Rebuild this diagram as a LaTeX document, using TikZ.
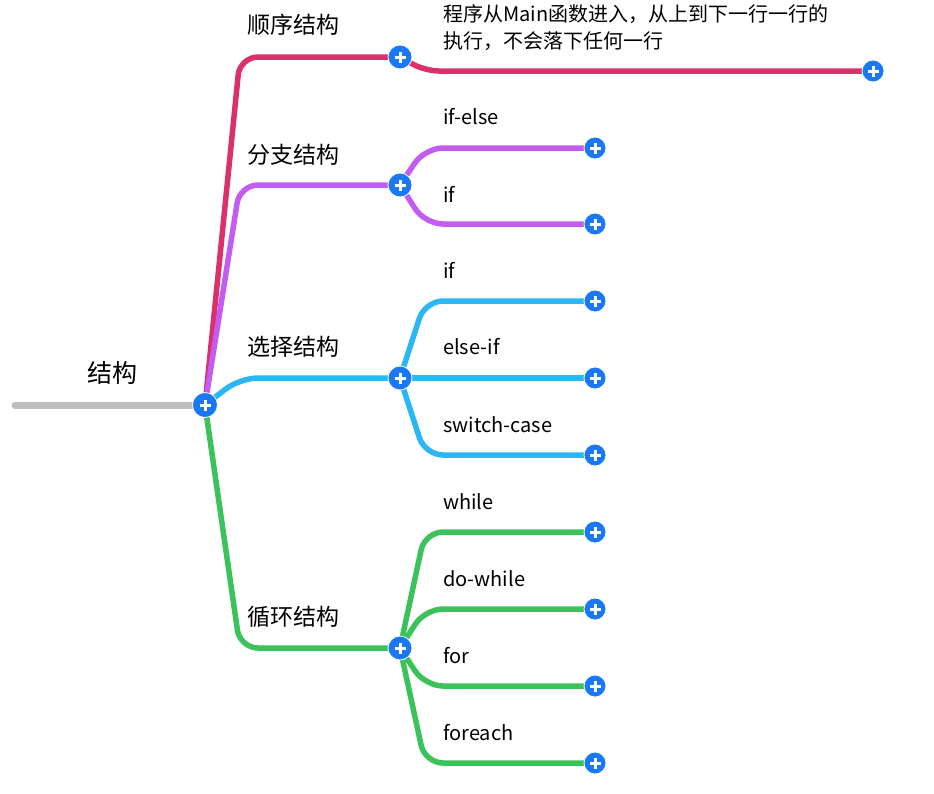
\documentclass[tikz,border=0pt]{standalone}
\usepackage{fontspec}
\setmainfont{Noto Sans CJK SC}
\definecolor{seqred}{HTML}{DC306B}
\definecolor{branchpurple}{HTML}{C35CF0}
\definecolor{selectblue}{HTML}{2BB6F6}
\definecolor{loopgreen}{HTML}{3CC25B}
\definecolor{rootgray}{HTML}{BDBDBD}
\definecolor{plusblue}{HTML}{1A78F6}
\tikzset{
  plus/.style={circle,fill=plusblue,draw=white,line width=0.8pt,minimum size=#1,inner sep=0pt,
    path picture={\draw[white,line width=3pt]
      ([xshift=-5.5pt]path picture bounding box.center) -- ([xshift=5.5pt]path picture bounding box.center)
      ([yshift=-5.5pt]path picture bounding box.center) -- ([yshift=5.5pt]path picture bounding box.center);}},
  plus/.default=24pt,
  link/.style={line width=5.5pt,rounded corners=18pt,line cap=round},
  rootfont/.style={font=\fontsize{25}{30}\selectfont},
  headfont/.style={font=\fontsize{23}{28}\selectfont},
  leaffont/.style={font=\fontsize{20}{27}\selectfont,anchor=west,inner sep=0pt},
}
\begin{document}
\begin{tikzpicture}[x=1pt,y=-1pt]
\useasboundingbox (0,0) rectangle (934,793);
% centres of the knots
\coordinate (start) at (15,405);
\coordinate (root) at (205,405);
\coordinate (seq) at (400,57);
\coordinate (branch) at (400,185);
\coordinate (select) at (400,378);
\coordinate (loop) at (400,648);
\coordinate (seqend) at (873,71);
\coordinate (ifelse) at (595,148);
\coordinate (ifone) at (595,224);
\coordinate (iftwo) at (595,301);
\coordinate (elseif) at (595,378);
\coordinate (switch) at (595,455);
\coordinate (while) at (595,532);
\coordinate (dowhile) at (595,609);
\coordinate (for) at (595,686);
\coordinate (foreach) at (595,763);

\draw[rootgray,line width=7pt,line cap=round] (start) -- (root);
\draw[link,seqred] (root) -- ([xshift=-160]seq) -- (seq);
\draw[link,branchpurple] (root) -- ([xshift=-160]branch) -- (branch);
\draw[link,selectblue] (root) -- ([xshift=-160]select) -- (select);
\draw[link,loopgreen] (root) -- ([xshift=-160]loop) -- (loop);

\draw[link,seqred,rounded corners=14pt] (seq) -- ([xshift=-448]seqend) -- (seqend);
\foreach \c in {ifelse,ifone}
  \draw[link,branchpurple] (branch) -- ([xshift=-170]\c) -- (\c);
\foreach \c in {iftwo,switch}
  \draw[link,selectblue] (select) -- ([xshift=-170]\c) -- (\c);
\draw[link,selectblue] (select) -- (elseif);
\foreach \c in {while,dowhile,for,foreach}
  \draw[link,loopgreen] (loop) -- ([xshift=-170]\c) -- (\c);

\node[plus=25pt] at (root) {};
\foreach \c in {seq,branch,select,loop}
  \node[plus] at (\c) {};
\foreach \c in {seqend,ifelse,ifone,iftwo,elseif,switch,while,dowhile,for,foreach}
  \node[plus=22pt] at (\c) {};

\node[rootfont] (rootlabel) at (112,373) {结构};
\node[headfont] (seqlabel) at (293,25) {顺序结构};
\node[headfont] (branchlabel) at (293,155) {分支结构};
\node[headfont] (selectlabel) at (293,347) {选择结构};
\node[headfont] (looplabel) at (293,617) {循环结构};

\node[leaffont,align=left] (seqtext) at (443,28) {程序从Main函数进入，从上到下一行一行的\\执行，不会落下任何一行};
\node[leaffont] (ifelselabel) at (443,117) {if-else};
\node[leaffont] (ifonelabel) at (443,194) {if};
\node[leaffont] (iftwolabel) at (443,270) {if};
\node[leaffont] (elseiflabel) at (443,347) {else-if};
\node[leaffont] (switchlabel) at (443,425) {switch-case};
\node[leaffont] (whilelabel) at (443,502) {while};
\node[leaffont] (dowhilelabel) at (443,579) {do-while};
\node[leaffont] (forlabel) at (443,656) {for};
\node[leaffont] (foreachlabel) at (443,733) {foreach};
\end{tikzpicture}
\end{document}
